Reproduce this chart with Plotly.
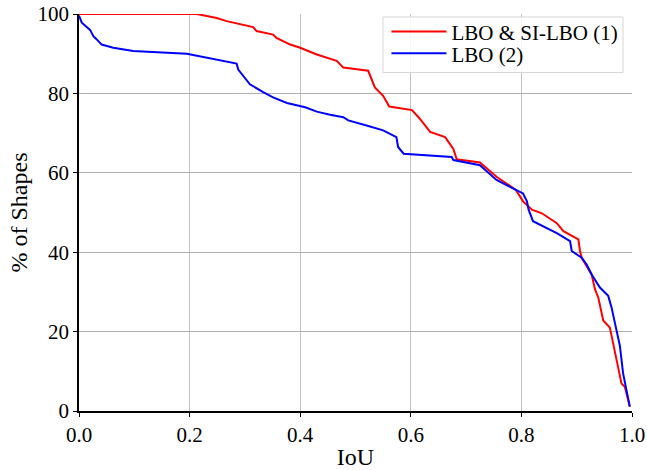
import plotly.graph_objects as go

red_x = [0.0, 0.213, 0.249, 0.267, 0.315, 0.321, 0.351, 0.357, 0.382, 0.40, 0.43, 0.466, 0.478,
         0.523, 0.535, 0.55, 0.561, 0.602, 0.614, 0.629, 0.635, 0.662, 0.677, 0.683, 0.725,
         0.755, 0.79, 0.803, 0.819, 0.837, 0.864, 0.876, 0.903, 0.906, 0.909, 0.927, 0.933,
         0.939, 0.948, 0.96, 0.966, 0.972, 0.981, 0.987, 0.996]
red_y = [100.0, 100.0, 99.0, 98.2, 96.7, 95.7, 94.8, 94.0, 92.3, 91.5, 89.8, 88.2, 86.5,
         85.7, 81.5, 79.4, 76.7, 75.8, 74.0, 71.5, 70.3, 69.0, 66.0, 63.4, 62.6,
         59.0, 55.7, 52.8, 50.7, 49.8, 47.3, 45.3, 43.2, 40.3, 38.6, 34.4, 30.7,
         28.6, 22.8, 21.0, 16.9, 13.2, 6.9, 6.1, 1.1]

blue_x = [0.0, 0.005, 0.02, 0.026, 0.032, 0.041, 0.062, 0.098, 0.195, 0.285, 0.288, 0.297,
          0.309, 0.333, 0.351, 0.376, 0.409, 0.43, 0.454, 0.478, 0.487, 0.52, 0.55, 0.574,
          0.577, 0.587, 0.635, 0.674, 0.677, 0.725, 0.755, 0.773, 0.803, 0.81, 0.813, 0.821,
          0.864, 0.888, 0.891, 0.909, 0.918, 0.927, 0.942, 0.957, 0.963, 0.972, 0.978,
          0.984, 0.99, 0.996]
blue_y = [99.6, 97.8, 96.0, 94.4, 93.6, 92.3, 91.5, 90.7, 90.0, 87.5, 86.0, 84.5,
          82.3, 80.3, 79.0, 77.6, 76.5, 75.4, 74.6, 74.0, 73.2, 71.9, 70.7, 69.0,
          66.5, 64.8, 64.4, 64.0, 63.2, 61.9, 58.2, 56.9, 54.8, 52.8, 50.7, 47.8,
          44.8, 42.8, 40.3, 38.6, 36.9, 34.4, 31.1, 29.0, 26.1, 20.3, 16.5,
          9.4, 5.3, 1.1]

x_ticks = [0.0, 0.2, 0.4, 0.6, 0.8, 1.0]
y_ticks = [0, 20, 40, 60, 80, 100]

FONT = "Liberation Serif, Times New Roman, serif"

fig = go.Figure()
fig.add_trace(go.Scatter(x=red_x, y=red_y, mode="lines", name="LBO &amp; SI-LBO (1)",
                         line=dict(color="#ff0000", width=2), legend="legend"))
fig.add_trace(go.Scatter(x=blue_x, y=blue_y, mode="lines", name="LBO (2)",
                         line=dict(color="#0000ff", width=2), legend="legend2"))

leg_common = dict(xanchor="left", yanchor="middle", bgcolor="rgba(0,0,0,0)",
                  borderwidth=0, font=dict(family=FONT, size=21), itemwidth=55)

fig.update_layout(
    width=647, height=470,
    margin=dict(l=79, r=15, t=11, b=59),
    paper_bgcolor="white", plot_bgcolor="white",
    font=dict(family=FONT, size=21, color="black"),
    legend=dict(x=0.556, y=0.955, **leg_common),
    legend2=dict(x=0.556, y=0.90, **leg_common),
    showlegend=True,
    shapes=[dict(type="rect", xref="paper", yref="paper",
                 x0=0.5497, x1=0.9837, y0=0.8525, y1=0.9925,
                 line=dict(color="#d6d6d6", width=1),
                 fillcolor="rgba(255,255,255,0.85)", layer="above")],
)
fig.update_xaxes(
    range=[0, 1], tickvals=x_ticks, ticktext=[f"{v:.1f}" for v in x_ticks],
    showgrid=True, gridcolor="#c4c4c4", gridwidth=1,
    showline=True, linecolor="black", linewidth=1.5,
    ticks="outside", ticklen=4, tickcolor="black",
    zeroline=False, mirror=False, automargin=False, ticklabeloverflow="allow",
    title=dict(text="IoU", font=dict(family=FONT, size=24), standoff=6),
    tickfont=dict(family=FONT, size=21),
)
fig.update_yaxes(
    range=[0, 100], tickvals=y_ticks, ticktext=[str(v) for v in y_ticks],
    showgrid=True, gridcolor="#b0b0b0", gridwidth=1,
    showline=True, linecolor="black", linewidth=1.5,
    ticks="outside", ticklen=4, tickcolor="black",
    zeroline=False, mirror=False, automargin=False, ticklabeloverflow="allow",
    title=dict(text="% of Shapes", font=dict(family=FONT, size=24), standoff=3),
    tickfont=dict(family=FONT, size=21),
)

fig.write_html("out.html", config={"displayModeBar": False},
               post_script="document.body.style.margin='0';")
